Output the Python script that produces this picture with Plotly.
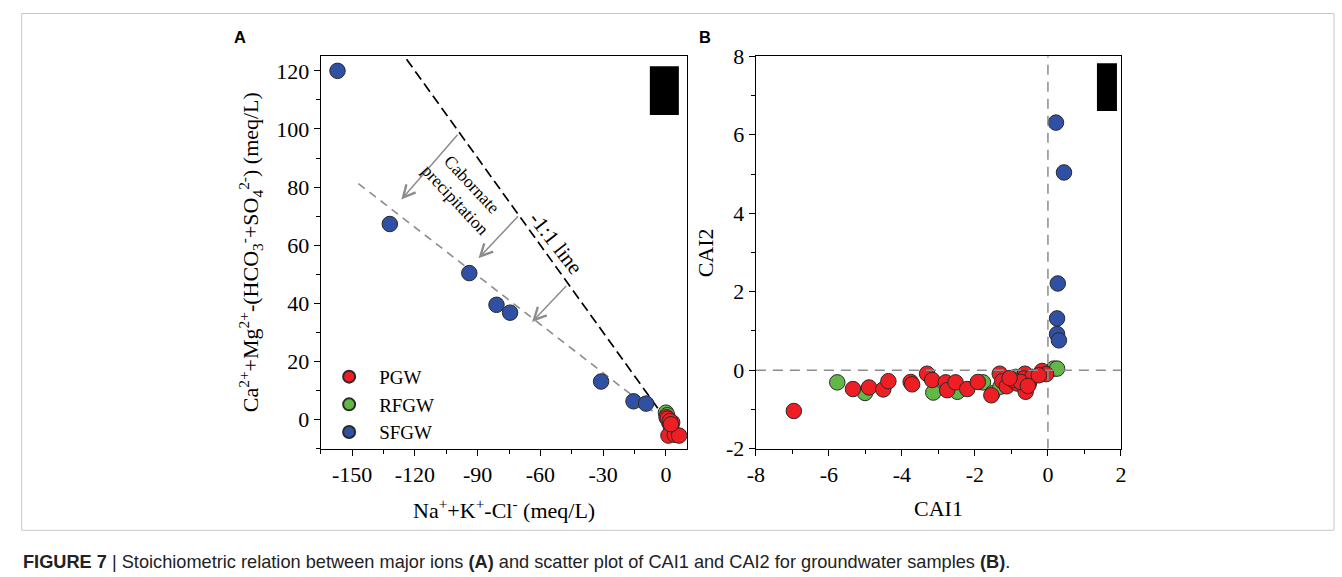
import plotly.graph_objects as go

# Figure size; the renderer maps figure pixels to picture pixels as
# X = 0.9886*x + 10.3 and Y = 0.9615*y + 10.5, so reference positions are converted back.
W, H = 1342, 588
SX, OX, SY, OY = 0.9886, 10.3, 0.9615, 10.5

# ---------------- Panel A data ----------------
a_sfgw_x = [-157, -132, -94, -81, -74.5, -31, -15.5, -9.5]
a_sfgw_y = [120, 67.3, 50.4, 39.5, 36.8, 13.1, 6.3, 5.5]
a_rfgw_x = [0.0, 0.6]
a_rfgw_y = [2.4, 1.5]
a_pgw_x = [0.3, 1.0, 1.6, 2.2, 3.0, 2.6, 1.2, 4.2, 6.3, 0.8, 1.9, 2.4]
a_pgw_y = [0.8, 0.0, -1.0, -2.0, -1.0, -3.0, -5.5, -5.2, -5.5, 0.3, -0.5, -1.6]

line11_x = [-124, -3]
line11_y = [124, 3]
trend_x = [-147, -6]
trend_y = [81.2, 2.7]

arrows_tail_x = [-99, -70, -47]
arrows_tail_y = [98.5, 70.5, 46.5]
arrows_head_x = [-126.5, -89.6, -64]
arrows_head_y = [75.7, 55.5, 33.6]

a_xticks = [-150, -120, -90, -60, -30, 0]
a_yticks = [0, 20, 40, 60, 80, 100, 120]

# ---------------- Panel B data ----------------
b_sfgw_x = [0.22, 0.44, 0.27, 0.25, 0.25, 0.30]
b_sfgw_y = [6.31, 5.04, 2.21, 1.32, 0.92, 0.76]
b_rfgw_x = [-5.77, -5.01, -3.14, -2.48, -1.78, -1.52, -1.30, -0.88, -0.52, 0.16, 0.25, -1.0]
b_rfgw_y = [-0.31, -0.58, -0.57, -0.55, -0.31, -0.59, -0.42, -0.17, -0.34, 0.04, 0.04, -0.3]
b_pgw_x = [-6.96, -5.34, -4.90, -4.51, -4.37, -3.76, -3.72, -3.31, -3.17, -2.80, -2.76,
           -2.53, -2.21, -1.92, -1.55, -1.32, -1.25, -1.13, -0.84, -0.63, -0.61, -0.66,
           -0.43, -0.16, -0.05, -0.25, -0.95, -0.75, -1.05, -0.55]
b_pgw_y = [-1.04, -0.48, -0.44, -0.49, -0.28, -0.30, -0.36, -0.09, -0.25, -0.31, -0.51,
           -0.31, -0.48, -0.30, -0.64, -0.09, -0.28, -0.41, -0.34, -0.09, -0.55, -0.21,
           -0.17, -0.02, -0.10, -0.13, -0.25, -0.30, -0.20, -0.40]

b_xticks = [-8, -6, -4, -2, 0, 2]
b_yticks = [-2, 0, 2, 4, 6, 8]

RED = "#ED1F24"
GREEN = "#62B846"
BLUE = "#3050A3"
SERIF = "Liberation Serif, Times New Roman, serif"
SANS = "Liberation Sans, Arial, sans-serif"


def fx(X):
    return (X - OX) / SX


def fy(Y):
    return (Y - OY) / SY


def px(X):
    return fx(X) / W


def py(Y):
    return 1 - fy(Y) / H


fig = go.Figure()

mk = dict(size=15.5, line=dict(color="#2a2a2a", width=1))

# Panel A lines
fig.add_trace(go.Scatter(x=trend_x, y=trend_y, mode="lines",
                         line=dict(color="#8c8c8c", width=1.6, dash="8px,6px"),
                         showlegend=False, hoverinfo="skip", xaxis="x", yaxis="y"))
fig.add_trace(go.Scatter(x=line11_x, y=line11_y, mode="lines",
                         line=dict(color="black", width=1.7, dash="10px,5px"),
                         showlegend=False, hoverinfo="skip", xaxis="x", yaxis="y"))

# Panel A markers
fig.add_trace(go.Scatter(x=a_sfgw_x, y=a_sfgw_y, mode="markers", name="SFGW",
                         marker=dict(color=BLUE, **mk), legendrank=3, xaxis="x", yaxis="y"))
fig.add_trace(go.Scatter(x=a_rfgw_x, y=a_rfgw_y, mode="markers", name="RFGW",
                         marker=dict(color=GREEN, **mk), legendrank=2, xaxis="x", yaxis="y"))
fig.add_trace(go.Scatter(x=a_pgw_x, y=a_pgw_y, mode="markers", name="PGW",
                         marker=dict(color=RED, **mk), legendrank=1, xaxis="x", yaxis="y"))

# Panel B markers
fig.add_trace(go.Scatter(x=b_sfgw_x, y=b_sfgw_y, mode="markers", showlegend=False,
                         marker=dict(color=BLUE, **mk), xaxis="x2", yaxis="y2"))
fig.add_trace(go.Scatter(x=b_rfgw_x, y=b_rfgw_y, mode="markers", showlegend=False,
                         marker=dict(color=GREEN, **mk), xaxis="x2", yaxis="y2"))
fig.add_trace(go.Scatter(x=b_pgw_x, y=b_pgw_y, mode="markers", showlegend=False,
                         marker=dict(color=RED, **mk), xaxis="x2", yaxis="y2"))

axis_common = dict(showline=True, mirror=True, linecolor="black", linewidth=1.3,
                   ticks="outside", ticklen=6, tickwidth=1.2, tickcolor="black",
                   showgrid=False, zeroline=False,
                   tickfont=dict(family=SERIF, size=22, color="black"))

ydom = [py(449), py(55)]

fig.update_layout(
    width=W, height=H,
    margin=dict(l=0, r=0, t=0, b=0),
    paper_bgcolor="white", plot_bgcolor="white",
    xaxis=dict(domain=[px(322), px(688)], range=[-165, 10], anchor="y",
               tickvals=a_xticks, ticktext=[str(v) for v in a_xticks],
               minor=dict(ticks="outside", ticklen=4, tickcolor="black", dtick=15, tick0=-165),
               **axis_common),
    yaxis=dict(domain=ydom, range=[-10, 125], anchor="x",
               tickvals=a_yticks, ticktext=[str(v) for v in a_yticks],
               minor=dict(ticks="outside", ticklen=4, tickcolor="black", dtick=10, tick0=-10),
               **axis_common),
    xaxis2=dict(domain=[px(757), px(1122)], range=[-8, 2], anchor="y2",
                tickvals=b_xticks, ticktext=[str(v) for v in b_xticks],
                minor=dict(ticks="outside", ticklen=4, tickcolor="black", dtick=1, tick0=-8),
                **axis_common),
    yaxis2=dict(domain=ydom, range=[-2, 8], anchor="x2",
                tickvals=b_yticks, ticktext=[str(v) for v in b_yticks],
                minor=dict(ticks="outside", ticklen=4, tickcolor="black", dtick=1, tick0=-2),
                **axis_common),
    legend=dict(x=(fx(352) - 32) / W, y=1 - (fy(377) - 20) / H,
                xanchor="left", yanchor="top", itemwidth=50,
                font=dict(family=SERIF, size=19, color="black"),
                bgcolor="rgba(0,0,0,0)", tracegroupgap=0, itemsizing="constant"),
    showlegend=True,
)

shapes = []
# Panel B reference lines
shapes.append(dict(type="line", xref="x2", yref="y2", x0=-8, x1=2, y0=0, y1=0,
                   line=dict(color="#8c8c8c", width=1.5, dash="10px,7px")))
shapes.append(dict(type="line", xref="x2", yref="y2", x0=0, x1=0, y0=-2, y1=8,
                   line=dict(color="#8c8c8c", width=1.5, dash="10px,7px")))
# black placeholder boxes
shapes.append(dict(type="rect", xref="paper", yref="paper", x0=px(651), x1=px(680),
                   y0=py(114), y1=py(65), fillcolor="black", line=dict(width=0)))
shapes.append(dict(type="rect", xref="paper", yref="paper", x0=px(1098), x1=px(1118),
                   y0=py(110), y1=py(62), fillcolor="black", line=dict(width=0)))
# figure frame
shapes.append(dict(type="rect", xref="paper", yref="paper", x0=px(23), x1=px(1335),
                   y0=py(531), y1=py(12), line=dict(color="#c8c8c8", width=1)))
fig.update_layout(shapes=shapes)

ann = []
for tx, ty, hx, hy in zip(arrows_tail_x, arrows_tail_y, arrows_head_x, arrows_head_y):
    ann.append(dict(x=hx, y=hy, ax=tx, ay=ty, xref="x", yref="y", axref="x", ayref="y",
                    showarrow=True, arrowhead=5, arrowsize=1.6, arrowwidth=1.5,
                    arrowcolor="#8c8c8c", text=""))


def label(X, Y, text, size, family=SERIF, angle=0, xanchor="center", color="black"):
    ann.append(dict(x=px(X), y=py(Y), xref="paper", yref="paper", text=text,
                    showarrow=False, textangle=angle, xanchor=xanchor, yanchor="middle",
                    font=dict(family=family, size=size, color=color)))


label(465, 192, "Cabornate<br>precipitation", 17.5, angle=47)
label(557, 242, "-1:1 line", 21.5, angle=52)
label(241, 36, "<b>A</b>", 16.5, family=SANS)
label(706, 36, "<b>B</b>", 16.5, family=SANS)
label(505, 510, "Na<sup>+</sup>+K<sup>+</sup>-Cl<sup>-</sup> (meq/L)", 22)
label(252, 252,
      "Ca<sup>2+</sup>+Mg<sup>2+</sup>-(HCO<sub>3</sub><sup>-</sup>+SO<sub>4</sub><sup>2-</sup>) (meq/L)",
      22, angle=-90)
label(939.5, 509, "CAI1", 22)
label(707, 252, "CAI2", 22, angle=-90)
label(22, 563,
      "<b>FIGURE 7</b> | Stoichiometric relation between major ions <b>(A)</b> and scatter plot of CAI1 and CAI2 for groundwater samples <b>(B)</b>.",
      18.2, family=SANS, xanchor="left", color="#222")

fig.update_layout(annotations=ann)

fig.write_html("out.html")
